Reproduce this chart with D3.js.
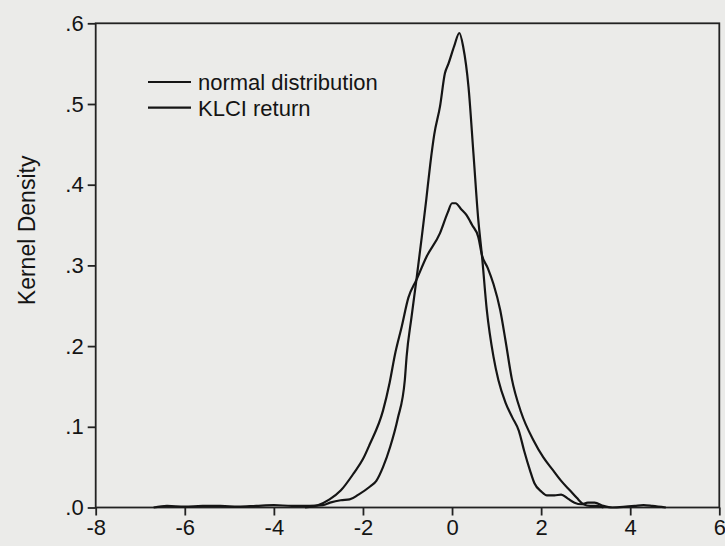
<!DOCTYPE html>
<html>
<head>
<meta charset="utf-8">
<script src="https://cdn.jsdelivr.net/npm/d3@7"></script>
<style>
  html, body { margin: 0; padding: 0; background: #ebebe9; }
  svg { display: block; }
  .axis text { font-family: "Liberation Sans", Arial, sans-serif; font-size: 22px; fill: #141414; }
  .axis path, .axis line { stroke: #222; stroke-width: 1.8px; }
  .curve { fill: none; stroke: #151515; stroke-width: 2.2px; stroke-linejoin: round; }
</style>
</head>
<body>
<svg id="chart" width="725" height="546"></svg>
<script>
// x values (return) and kernel density for each series
const normalX = [-3.3, -3.0, -2.75, -2.5, -2.2, -2.0, -1.85, -1.55, -1.4, -1.28, -1.13, -0.98, -0.8, -0.57, -0.27, -0.1, 0.0, 0.08, 0.2, 0.33, 0.45, 0.59, 0.67, 0.8, 0.93, 1.08, 1.2, 1.34, 1.55, 1.83, 2.05, 2.27, 2.45, 2.65, 2.8, 2.95, 3.1, 3.25, 3.4];
const normalY = [0.000, 0.003, 0.010, 0.021, 0.043, 0.060, 0.078, 0.120, 0.155, 0.190, 0.224, 0.260, 0.282, 0.311, 0.340, 0.365, 0.377, 0.377, 0.370, 0.362, 0.350, 0.335, 0.313, 0.297, 0.277, 0.245, 0.207, 0.160, 0.118, 0.083, 0.062, 0.046, 0.033, 0.021, 0.012, 0.004, 0.002, 0.002, 0.000];

const klciX = [-6.7, -6.4, -6.0, -5.6, -5.2, -4.8, -4.4, -4.0, -3.6, -3.2, -2.9, -2.74, -2.5, -2.3, -2.1, -1.84, -1.7, -1.55, -1.39, -1.22, -1.06, -1.02, -0.91, -0.8, -0.68, -0.58, -0.49, -0.4, -0.27, -0.16, -0.08, 0.05, 0.164, 0.25, 0.37, 0.48, 0.59, 0.67, 0.78, 0.93, 1.04, 1.2, 1.35, 1.5, 1.62, 1.75, 1.85, 2.0, 2.13, 2.3, 2.45, 2.6, 2.75, 2.9, 3.05, 3.2, 3.4, 3.6, 3.9, 4.1, 4.3, 4.5, 4.8];
const klciY = [0.000, 0.002, 0.001, 0.002, 0.002, 0.001, 0.002, 0.003, 0.002, 0.002, 0.003, 0.006, 0.009, 0.010, 0.016, 0.026, 0.033, 0.050, 0.075, 0.110, 0.158, 0.187, 0.236, 0.282, 0.335, 0.381, 0.425, 0.462, 0.497, 0.538, 0.550, 0.572, 0.588, 0.571, 0.521, 0.439, 0.356, 0.313, 0.245, 0.187, 0.158, 0.130, 0.112, 0.095, 0.070, 0.046, 0.030, 0.020, 0.015, 0.015, 0.016, 0.011, 0.006, 0.004, 0.006, 0.006, 0.002, 0.000, 0.001, 0.002, 0.003, 0.002, 0.000];

const xTicks = [-8, -6, -4, -2, 0, 2, 4, 6];
const yTicks = [0, 0.1, 0.2, 0.3, 0.4, 0.5, 0.6];
const seriesNames = ["normal distribution", "KLCI return"];

const plotLeft = 95.7, plotRight = 719.3, plotTop = 23.3, plotBottom = 507.5;

const svg = d3.select("#chart");

const x = d3.scaleLinear().domain([-8, 6]).range([plotLeft, plotRight]);
const y = d3.scaleLinear().domain([0, 0.6]).range([plotBottom, plotTop]);

// frame
svg.append("rect")
  .attr("x", plotLeft).attr("y", plotTop)
  .attr("width", plotRight - plotLeft).attr("height", plotBottom - plotTop)
  .attr("fill", "none").attr("stroke", "#222").attr("stroke-width", 1.8);

svg.append("g")
  .attr("class", "axis")
  .attr("transform", `translate(0,${plotBottom})`)
  .call(d3.axisBottom(x).tickValues(xTicks).tickSize(8).tickPadding(4)
    .tickFormat(d => String(d)))
  .call(g => g.select(".domain").remove());

svg.append("g")
  .attr("class", "axis")
  .attr("transform", `translate(${plotLeft},0)`)
  .call(d3.axisLeft(y).tickValues(yTicks).tickSize(8).tickPadding(4)
    .tickFormat(d => d3.format(".1f")(d).replace(/^0/, "")))
  .call(g => g.select(".domain").remove());

svg.append("text")
  .attr("transform", `translate(35,${(plotTop + plotBottom) / 2 - 35}) rotate(-90)`)
  .attr("text-anchor", "middle")
  .style("font-family", "'Liberation Sans', Arial, sans-serif")
  .style("font-size", "23px")
  .attr("fill", "#141414")
  .text("Kernel Density");

const line = d3.line()
  .x(d => x(d[0]))
  .y(d => y(d[1]))
  .curve(d3.curveMonotoneX);

const normalData = normalX.map((v, i) => [v, normalY[i]]);
const klciData = klciX.map((v, i) => [v, klciY[i]]);

svg.append("path").datum(normalData).attr("class", "curve").attr("d", line);
svg.append("path").datum(klciData).attr("class", "curve").attr("d", line);

// legend
const legend = svg.append("g").attr("transform", "translate(148,82)");
seriesNames.forEach((name, i) => {
  const row = legend.append("g").attr("transform", `translate(0,${i * 25.6})`);
  row.append("line")
    .attr("x1", 0).attr("x2", 43).attr("y1", 0).attr("y2", 0)
    .attr("stroke", "#151515").attr("stroke-width", 2.2);
  row.append("text")
    .attr("x", 50).attr("y", 8)
    .style("font-family", "'Liberation Sans', Arial, sans-serif")
    .style("font-size", "22px")
    .attr("fill", "#141414")
    .text(name);
});
</script>
</body>
</html>
